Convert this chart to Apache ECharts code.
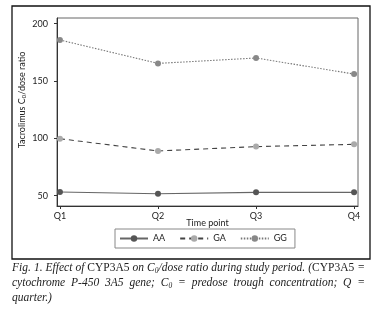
<!DOCTYPE html>
<html>
<head>
<meta charset="utf-8">
<script src="https://cdn.jsdelivr.net/npm/echarts@6/dist/echarts.min.js"></script>
<style>
  html, body { margin: 0; padding: 0; background: #fff; }
  #chart { width: 376px; height: 312px; }
</style>
</head>
<body>
<div id="chart"></div>
<script>
var quarters = ["Q1", "Q2", "Q3", "Q4"];
var aaValues = [53.2, 51.7, 52.9, 52.9];
var gaValues = [99.7, 89.0, 92.8, 94.8];
var ggValues = [185.8, 165.4, 170.1, 156.1];
var yTicks = [50, 100, 150, 200];

// caption lines; {r|..} upright, {s|..} subscript
var captionLines = [
  "Fig. 1. Effect of {r|CYP3A5} on C{s|0}/dose ratio during study period. ({r|CYP3A5} =",
  "cytochrome P-450 3A5 gene; C{s|0} = predose trough concentration; Q =",
  "quarter.)"
];

var dom = document.getElementById("chart");
var myChart = echarts.init(dom, null, { renderer: "canvas" });

var capFonts = {
  i: "italic 11.5px 'Liberation Serif'",
  r: "11.5px 'Liberation Serif'",
  s: "italic 7.5px 'Liberation Serif'"
};
var ctx = document.createElement("canvas").getContext("2d");
function measureWord(w) {
  var total = 0;
  var re = /\{(\w)\|([^}]*)\}|([^{]+)/g, m;
  while ((m = re.exec(w))) {
    var key = m[1] || "i";
    var txt = m[1] ? m[2] : m[3];
    ctx.font = capFonts[key];
    total += ctx.measureText(txt).width;
  }
  return total;
}

var captionGraphics = [];
var capLeft = 12, capRight = 365, capMid = 268, capLine = 15;
captionLines.forEach(function (line, li) {
  var words = line.split(" ");
  var widths = words.map(measureWord);
  var sum = widths.reduce(function (a, b) { return a + b; }, 0);
  var last = li === captionLines.length - 1;
  var gap = last ? 3 : (capRight - capLeft - sum) / (words.length - 1);
  var x = capLeft;
  words.forEach(function (w, wi) {
    captionGraphics.push({
      type: "text",
      x: x,
      y: capMid + li * capLine,
      style: {
        text: w,
        font: capFonts.i,
        fill: "#222",
        align: "left",
        verticalAlign: "middle",
        rich: {
          r: { font: capFonts.r, fill: "#222" },
          s: { font: capFonts.s, fill: "#222", padding: [7, 0, 0, 0] }
        }
      },
      silent: true
    });
    x += widths[wi] + gap;
  });
});

function pts(vals) {
  return vals.map(function (v, i) { return [i + 1, v]; });
}

var labelFont = { fontFamily: "Lato", fontSize: 9, color: "#222" };

var option = {
  animation: false,
  grid: {
    left: 57, right: 18, top: 18, bottom: 106,
    show: true, borderColor: "#666", borderWidth: 1
  },
  xAxis: {
    type: "value",
    min: 0.97,
    max: 4.04,
    name: "Time point",
    nameLocation: "middle",
    nameGap: 13,
    nameMoveOverlap: false,
    nameTextStyle: labelFont,
    splitLine: { show: false },
    axisLine: { lineStyle: { color: "#333", width: 1 } },
    axisTick: { show: true, length: 3, customValues: [1, 2, 3, 4], lineStyle: { color: "#333" } },
    axisLabel: Object.assign({
      customValues: [1, 2, 3, 4],
      margin: 6,
      formatter: function (v) { return quarters[Math.round(v) - 1]; }
    }, labelFont)
  },
  yAxis: {
    type: "value",
    min: 41,
    max: 205,
    name: "Tacrolimus C{s|0}/dose ratio",
    nameLocation: "middle",
    nameGap: 30,
    nameMoveOverlap: false,
    nameRotate: 90,
    nameTextStyle: Object.assign({
      padding: [0, 0, 0, 24],
      rich: { s: { fontFamily: "Lato", fontSize: 6, color: "#222", padding: [0, 0, -4, 0] } }
    }, labelFont),
    splitLine: { show: false },
    axisLine: { show: true, lineStyle: { color: "#333", width: 1 } },
    axisTick: { show: true, length: 3, customValues: yTicks, lineStyle: { color: "#333" } },
    axisLabel: Object.assign({ customValues: yTicks, margin: 9 }, labelFont)
  },
  legend: {
    left: 115,
    top: 229,
    padding: [5, 8, 5, 4],
    borderColor: "#888",
    borderWidth: 1,
    itemWidth: 28,
    itemHeight: 8,
    itemGap: 14,
    textStyle: labelFont,
    data: ["AA", "GA", "GG"]
  },
  series: [
    {
      name: "AA", type: "line", data: pts(aaValues),
      symbol: "circle", symbolSize: 6,
      lineStyle: { color: "#666", width: 1.2, type: "solid" },
      itemStyle: { color: "#555" }
    },
    {
      name: "GA", type: "line", data: pts(gaValues),
      symbol: "circle", symbolSize: 6,
      lineStyle: { color: "#444", width: 1.1, type: [5, 4] },
      itemStyle: { color: "#aaa" }
    },
    {
      name: "GG", type: "line", data: pts(ggValues),
      symbol: "circle", symbolSize: 6,
      lineStyle: { color: "#777", width: 1.1, type: [1.5, 1.5] },
      itemStyle: { color: "#888" }
    }
  ],
  graphic: [
    {
      type: "rect",
      shape: { x: 12, y: 6, width: 358, height: 253 },
      style: { fill: "none", stroke: "#111", lineWidth: 1.3 },
      silent: true
    }
  ].concat(captionGraphics)
};

myChart.setOption(option);
window.addEventListener("resize", myChart.resize);
</script>
</body>
</html>
